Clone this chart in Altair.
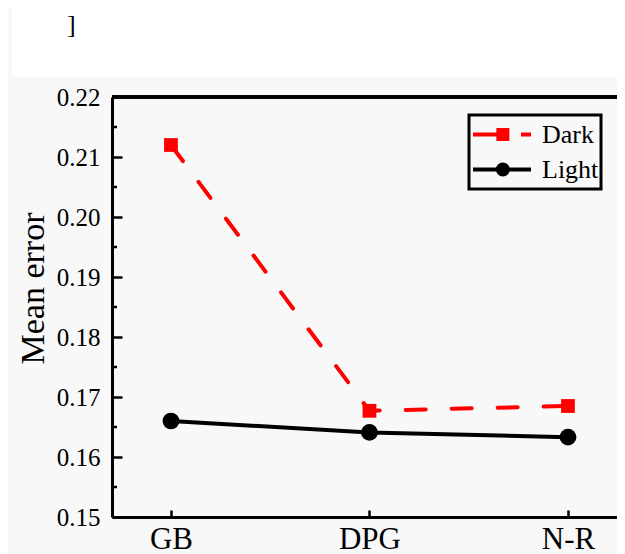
import altair as alt
import pandas as pd

methods = ["GB", "DPG", "N-R"]
dark = [0.2120, 0.1677, 0.1685]
light = [0.1660, 0.1641, 0.1633]
series_names = ["Dark", "Light"]
y_ticks = [0.15, 0.16, 0.17, 0.18, 0.19, 0.20, 0.21, 0.22]
y_minor = [0.155, 0.165, 0.175, 0.185, 0.195, 0.205, 0.215]
stray_text = ["]"]

rows = []
for m, d, l in zip(methods, dark, light):
    rows.append({"method": m, "series": "Dark", "err": d})
    rows.append({"method": m, "series": "Light", "err": l})
df = pd.DataFrame(rows)
minor_df = pd.DataFrame({"v": y_minor})
stray_df = pd.DataFrame({"t": stray_text})

W, H = 505, 420
FONT = "Liberation Serif"

xenc = alt.X("method:N", sort=methods, title=None,
             scale=alt.Scale(type="point", padding=0.272, align=0.546),
             axis=alt.Axis(labelFont=FONT, labelFontSize=31, labelColor="black",
                           labelAngle=0, labelBaseline="alphabetic",
                           labelPadding=38,
                           domainColor="black", domainWidth=3,
                           tickColor="black", tickWidth=2.5,
                           tickSize=alt.ExprRef("-7"), grid=False))
yenc = alt.Y("err:Q", title="Mean error",
             scale=alt.Scale(domain=[0.15, 0.22], nice=False, zero=False),
             axis=alt.Axis(values=y_ticks, format=".2f",
                           labelFont=FONT, labelFontSize=25, labelColor="black",
                           labelPadding=22,
                           titleFont=FONT, titleFontSize=34, titleFontWeight="normal",
                           titleColor="black", titleAngle=-90,
                           titleBaseline="alphabetic", titleX=-69, titleY=191,
                           titleAlign="center",
                           domainColor="black", domainWidth=3,
                           tickColor="black", tickWidth=2.5,
                           tickSize=alt.ExprRef("-10"), grid=False))

base = alt.Chart(df)

dark_line = base.transform_filter(alt.datum.series == "Dark").mark_line(
    color="#ff0000", strokeWidth=4, strokeDash=[20, 26], strokeCap="round"
).encode(x=xenc, y=yenc)
light_line = base.transform_filter(alt.datum.series == "Light").mark_line(
    color="black", strokeWidth=4
).encode(x=xenc, y=yenc)
dark_pts = base.transform_filter(alt.datum.series == "Dark").mark_point(
    shape="square", filled=True, size=190, color="#ff0000", opacity=1
).encode(x=xenc, y=yenc)
light_pts = base.transform_filter(alt.datum.series == "Light").mark_point(
    shape="circle", filled=True, size=280, color="black", opacity=1
).encode(x=xenc, y=yenc)

dark_sym = ("M-1,0H-0.125M0.655,0H1"
            "M-0.125,-0.155H0.185V0.155H-0.125Z"
            "M-0.022,-0.052H0.082V0.052H-0.022Z")
light_sym = ("M-1,0H1"
             "M-0.142,0A0.172,0.172 0 1,0 0.202,0A0.172,0.172 0 1,0 -0.142,0Z"
             "M-0.022,0A0.052,0.052 0 1,0 0.082,0A0.052,0.052 0 1,0 -0.022,0Z")

legend_layer = base.mark_point(filled=False, opacity=1, size=0).encode(
    x=xenc, y=yenc,
    color=alt.Color("series:N", title=None,
                    scale=alt.Scale(domain=series_names, range=["#ff0000", "black"]),
                    legend=alt.Legend(orient="none", legendX=357, legendY=18,
                                      labelFont=FONT, labelFontSize=26, labelColor="black",
                                      labelExpr="datum.label + '\u00a0\u00a0'",
                                      symbolSize=3364, symbolStrokeWidth=4,
                                      strokeColor="black", padding=2,
                                      labelOffset=9, rowPadding=0, clipHeight=35)),
    shape=alt.Shape("series:N", title=None,
                    scale=alt.Scale(domain=series_names, range=[dark_sym, light_sym])),
)

minor_ticks = alt.Chart(minor_df).mark_rule(color="black", strokeWidth=2.5).encode(
    y=alt.Y("v:Q", scale=alt.Scale(domain=[0.15, 0.22], nice=False, zero=False)),
    x=alt.value(0), x2=alt.value(5)
)
top_border = alt.Chart(minor_df).mark_rule(color="black", strokeWidth=3).encode(
    y=alt.value(0), x=alt.value(0), x2=alt.value(W)
)
white_band = alt.Chart(stray_df).mark_rect(color="white").encode(
    x=alt.value(-100), x2=alt.value(W), y=alt.value(-89), y2=alt.value(-20)
)
stray = alt.Chart(stray_df).mark_text(
    font=FONT, fontSize=26, color="black", align="left", baseline="alphabetic"
).encode(text="t:N", x=alt.value(-45), y=alt.value(-64))

chart = alt.layer(
    white_band, stray, minor_ticks, top_border, light_line, dark_line,
    light_pts, dark_pts, legend_layer
).properties(
    width=W, height=H,
    autosize=alt.AutoSizeParams(type="none"),
    padding={"left": 104, "top": 89, "right": 0, "bottom": 37},
    background="#f8f8f8",
).configure_view(stroke=None).configure_legend(strokeWidth=3)

chart.save("out.html", embed_options={"renderer": "svg", "actions": False})
